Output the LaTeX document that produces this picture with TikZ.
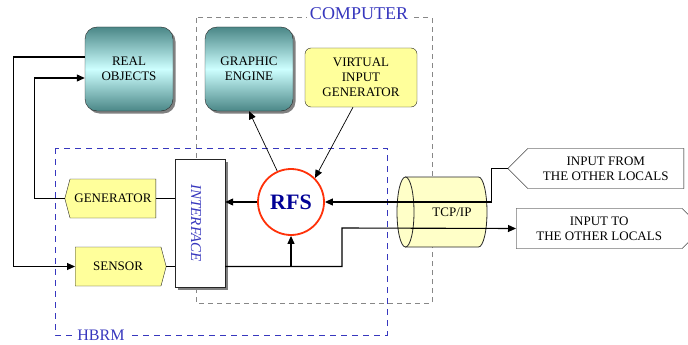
\documentclass[tikz,border=0pt]{standalone}
\usepackage{fontspec}
\setmainfont{Liberation Serif}
\usepackage{graphicx}
\usetikzlibrary{shapes,shapes.symbols,arrows.meta,positioning,calc}
\usepackage{xcolor}
\definecolor{hbrmblue}{RGB}{55,55,190}
\definecolor{compgray}{RGB}{135,135,135}
\definecolor{tealdark}{RGB}{75,135,135}
\definecolor{teallight}{RGB}{205,255,255}
\definecolor{boxyellow}{RGB}{255,255,155}
\definecolor{tubeyellow}{RGB}{255,255,200}
\definecolor{rfsred}{RGB}{255,50,10}
\definecolor{rfsblue}{RGB}{0,0,150}

\begin{document}
\begin{tikzpicture}[x=1pt, y=-1pt, >={Triangle[length=8pt,width=7pt]},
    boxshadow/.style={preaction={fill=gray, draw=none, transform canvas={xshift=#1, yshift=-#1}}},
    txt/.style={font=\fontsize{13}{15}\selectfont, align=center, inner sep=0pt},
    real/.style={txt, rectangle, draw=black!85, rounded corners=12pt, top color=tealdark, bottom color=tealdark, middle color=teallight, minimum width=88pt, minimum height=84pt, boxshadow=2.5pt},
    yellowbox/.style={txt, rectangle, draw=black!85, rounded corners=6pt, fill=boxyellow, minimum width=112pt, minimum height=59pt},
    plug/.style={txt, signal, signal pointer angle=150, draw=black!85, fill=boxyellow, minimum width=91pt, minimum height=39pt},
    tag/.style={txt, signal, signal pointer angle=90, draw=black, fill=white, minimum width=176pt, minimum height=40pt},
    rfs/.style={circle, draw=rfsred, line width=1.8pt, fill=white, minimum size=66pt, inner sep=0pt, font=\fontsize{22}{22}\selectfont\bfseries, text=rfsblue},
    iface/.style={rectangle, draw=black!85, fill=white, minimum width=50pt, minimum height=128pt, inner sep=0pt, font=\fontsize{15}{15}\selectfont\itshape, text=hbrmblue, boxshadow=3pt},
    tube/.style={txt, rectangle, minimum width=90pt, minimum height=70pt},
    frametitle/.style={fill=white, inner sep=3pt, text=hbrmblue, font=\fontsize{18}{18}\selectfont},
    link/.style={line width=1.1pt},
    thinlink/.style={line width=0.7pt}]

    \useasboundingbox (0,0) rectangle (688,345);
    \clip (0,0) rectangle (688,345);

    % frames
    \draw[compgray, line width=1pt, dash pattern=on 5pt off 4pt] (196,18) rectangle (432,303);
    \draw[hbrmblue, line width=1pt, dash pattern=on 6pt off 5pt] (55,148) rectangle (387,335);
    \node[frametitle] (comptitle) at (359,14) {COMPUTER};
    \node[frametitle, font=\fontsize{16}{16}\selectfont] (hbrmtitle) at (101,335) {HBRM};

    % TCP/IP tube
    \filldraw[draw=black!85, fill=tubeyellow, line width=0.8pt] (405.5,177) -- (478.5,177) arc[start angle=90, end angle=-90, x radius=8.5pt, y radius=35pt] -- (405.5,247) -- cycle;
    \filldraw[draw=black!85, fill=tubeyellow, line width=0.8pt] (405.5,212) ellipse[x radius=8.5pt, y radius=35pt];

    % blocks
    \node[real] (realobj) at (129,69) {REAL\\OBJECTS};
    \node[real] (engine) at (249,69) {GRAPHIC\\ENGINE};
    \node[yellowbox] (virtual) at (361,77.5) {VIRTUAL\\INPUT\\GENERATOR};
    \node[iface] (interface) at (200,223) {\hspace*{-8pt}\rotatebox{-90}{INTERFACE}};
    \node[plug, signal to=west, anchor=east] (generator) at (156,198.5) {GENERATOR};
    \node[plug, signal to=east, anchor=west] (sensor) at (75,266.5) {SENSOR};
    \node[tube] (tcp) at (442,212) {\hspace*{20pt}TCP/IP};
    \node[tag, signal to=west, anchor=east] (infrom) at (684,168.5) {INPUT FROM\\THE OTHER LOCALS};
    \node[tag, signal to=east, anchor=west, minimum width=186pt] (into) at (516,228.5) {INPUT TO\\THE OTHER LOCALS};
    \node[rfs] (rfs) at (291,202) {RFS};

    % connections
    \draw[link, ->] ([yshift=12pt]realobj.west) -- ++(-71,0) |- (sensor.west);
    \draw[link, ->] (generator.west) -- ++(-30,0) |- ([yshift=-9pt]realobj.west);
    \draw[link] (generator.east) -- (generator.east -| interface.west);
    \draw[link] (sensor.east) -- (sensor.east -| interface.west);
    \draw[link, ->] (rfs.west) -- (rfs.west -| interface.east);
    \draw[thinlink, ->] (rfs.114) -- (engine.south);
    \draw[thinlink, ->] ([xshift=-8pt]virtual.south) -- (rfs.45);
    \draw[link, ->] (infrom.west) -- ++(-16,0) |- (rfs.east);
    \coordinate (bend) at (342,228);
    \draw[link, ->] (interface.east |- sensor.east) -| (bend) -- (into.west);
    \draw[link, ->] (rfs.south |- sensor.east) -- (rfs.south);
\end{tikzpicture}
\end{document}
